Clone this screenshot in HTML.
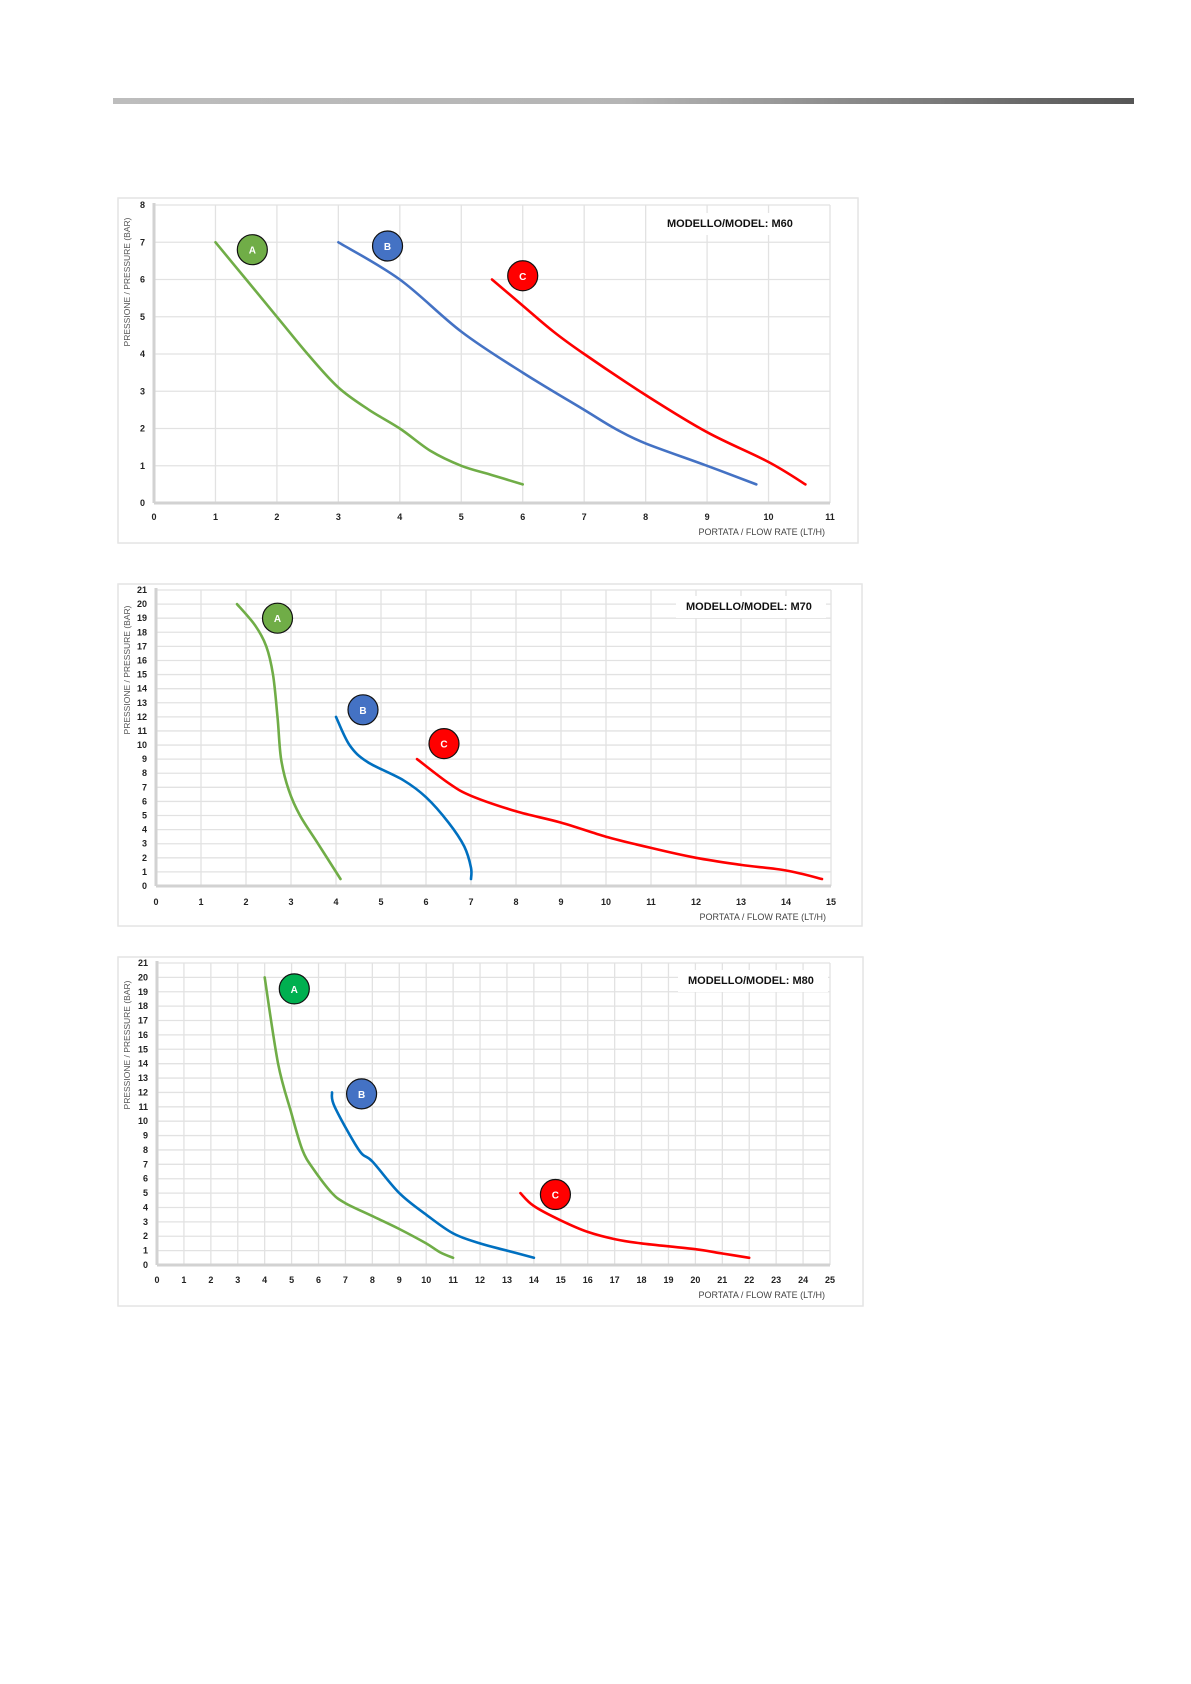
<!DOCTYPE html>
<html><head><meta charset="utf-8"><style>
html,body{margin:0;padding:0;background:#fff;}
body{width:1191px;height:1684px;position:relative;overflow:hidden;}
#bar{position:absolute;left:113px;top:98px;width:1021px;height:6px;background:linear-gradient(to right,#bdbdbd 0%,#b5b5b5 50%,#555 100%);}
svg{position:absolute;left:0;top:0;}
text{font-family:"Liberation Sans",sans-serif;}
</style></head><body>
<div id="bar"></div>
<svg id="s" width="1191" height="1684" xmlns="http://www.w3.org/2000/svg"></svg>
<script>
const NS="http://www.w3.org/2000/svg";
const s=document.getElementById('s');
function el(t,a,txt){const e=document.createElementNS(NS,t);for(const k in a)e.setAttribute(k,a[k]);if(txt!==undefined)e.textContent=txt;s.appendChild(e);return e;}
function smooth(P){let d='M'+P[0][0].toFixed(1)+','+P[0][1].toFixed(1);
 for(let i=0;i<P.length-1;i++){const p0=P[Math.max(0,i-1)],p1=P[i],p2=P[i+1],p3=P[Math.min(P.length-1,i+2)];
  const c1=[p1[0]+(p2[0]-p0[0])/6,p1[1]+(p2[1]-p0[1])/6],c2=[p2[0]-(p3[0]-p1[0])/6,p2[1]-(p3[1]-p1[1])/6];
  d+=` C${c1[0].toFixed(1)},${c1[1].toFixed(1)} ${c2[0].toFixed(1)},${c2[1].toFixed(1)} ${p2[0].toFixed(1)},${p2[1].toFixed(1)}`;}
 return d;}
function chart(c){
 const X=v=>c.x0+v*(c.x1-c.x0)/c.xm, Y=v=>c.y0-v*(c.y0-c.y1)/c.ym;
 el('rect',{x:c.fx,y:c.fy,width:c.fw,height:c.fh,fill:'#fff',stroke:'#e4e4e4','stroke-width':1.5});
 for(let i=1;i<=c.xm;i++)el('line',{x1:X(i),y1:c.y1,x2:X(i),y2:c.y0,stroke:'#e2e2e2','stroke-width':1.3});
 for(let i=1;i<=c.ym;i++)el('line',{x1:c.x0,y1:Y(i),x2:c.x1,y2:Y(i),stroke:'#e2e2e2','stroke-width':1.3});
 el('line',{x1:c.x0,y1:c.y1-2,x2:c.x0,y2:c.y0,stroke:'#d2d2d2','stroke-width':3});
 el('line',{x1:c.x0,y1:c.y0,x2:c.x1,y2:c.y0,stroke:'#d2d2d2','stroke-width':3});
 for(let i=0;i<=c.xm;i++)el('text',{x:X(i),y:c.ty,'font-size':9,'font-weight':'bold','text-anchor':'middle',fill:'#222'},i);
 for(let i=0;i<=c.ym;i++)el('text',{x:c.x0-9,y:Y(i)+3,'font-size':9,'font-weight':'bold','text-anchor':'end',fill:'#222'},i);
 el('text',{x:c.x1-5,y:c.xl,'font-size':9,'text-anchor':'end',fill:'#444'},'PORTATA / FLOW RATE (LT/H)');
 el('text',{x:0,y:0,'font-size':8.5,'text-anchor':'middle',fill:'#555',transform:`translate(${c.fx+12},${c.yl}) rotate(-90)`},'PRESSIONE / PRESSURE (BAR)');
 el('rect',{x:c.tx-10,y:c.tty-14,width:c.tw+20,height:22,fill:'#fff'});
 el('text',{x:c.tx,y:c.tty,'font-size':11,'font-weight':'bold',fill:'#111'},c.title);
 c.series.forEach(sr=>{
  el('path',{d:smooth(sr.p.map(q=>[X(q[0]),Y(q[1])])),fill:'none',stroke:sr.c,'stroke-width':2.6,'stroke-linejoin':'round','stroke-linecap':'round'});
 });
 c.series.forEach(sr=>{
  el('circle',{cx:X(sr.l[0]),cy:Y(sr.l[1]),r:15,fill:sr.lc||sr.c,stroke:'#111','stroke-width':1.2});
  el('text',{x:X(sr.l[0]),y:Y(sr.l[1])+4,'font-size':10,'font-weight':'bold','text-anchor':'middle',fill:'#fff'},sr.n);
 });
}
chart({fx:118,fy:198,fw:740,fh:345,x0:154,x1:830,xm:11,y0:503,y1:205,ym:8,ty:520,xl:535,yl:282,tx:667,tty:227,tw:128,title:'MODELLO/MODEL: M60',
 series:[
 {n:'A',c:'#70ad47',l:[1.6,6.8],p:[[1,7],[1.5,6],[2,5],[2.5,4],[3,3.1],[3.5,2.5],[4,2],[4.5,1.4],[5,1],[5.5,0.75],[6,0.5]]},
 {n:'B',c:'#4472c4',l:[3.8,6.9],p:[[3,7],[4,6],[5,4.6],[6,3.5],[7,2.5],[7.5,2],[8,1.6],[9,1],[9.8,0.5]]},
 {n:'C',c:'#ff0000',l:[6,6.1],p:[[5.5,6],[6,5.3],[6.5,4.6],[7,4],[8,2.9],[9,1.9],[10,1.1],[10.6,0.5]]}]});
chart({fx:118,fy:584,fw:744,fh:342,x0:156,x1:831,xm:15,y0:886,y1:590,ym:21,ty:905,xl:920,yl:670,tx:686,tty:610,tw:130,title:'MODELLO/MODEL: M70',
 series:[
 {n:'A',c:'#70ad47',l:[2.7,19],p:[[1.8,20],[2.2,18.5],[2.45,17],[2.6,15],[2.7,12],[2.78,9],[2.95,6.8],[3.2,5],[3.6,3],[4.1,0.5]]},
 {n:'B',c:'#0070c0',lc:'#4472c4',l:[4.6,12.5],p:[[4,12],[4.3,10],[4.7,8.8],[5.5,7.5],[6,6.3],[6.5,4.5],[6.85,2.8],[7,1.3],[7,0.5]]},
 {n:'C',c:'#ff0000',l:[6.4,10.1],p:[[5.8,9],[6.5,7.3],[7,6.4],[8,5.3],[9,4.5],[10,3.5],[11,2.7],[12,2],[13,1.5],[14,1.1],[14.8,0.5]]}]});
chart({fx:118,fy:957,fw:745,fh:349,x0:157,x1:830,xm:25,y0:1265,y1:963,ym:21,ty:1283,xl:1298,yl:1045,tx:688,tty:984,tw:130,title:'MODELLO/MODEL: M80',
 series:[
 {n:'A',c:'#70ad47',lc:'#00b050',l:[5.1,19.2],p:[[4,20],[4.5,14],[5,10.5],[5.4,8],[5.8,6.7],[6.5,5],[7,4.3],[8,3.4],[9,2.5],[10,1.5],[10.5,0.9],[11,0.5]]},
 {n:'B',c:'#0070c0',lc:'#4472c4',l:[7.6,11.9],p:[[6.5,12],[6.6,11],[7.5,8],[8,7.2],[9,5],[10,3.5],[11,2.2],[12,1.5],[13,1],[14,0.5]]},
 {n:'C',c:'#ff0000',l:[14.8,4.9],p:[[13.5,5],[14,4.1],[15,3.1],[16,2.3],[17,1.8],[18,1.5],[20,1.1],[21,0.8],[22,0.5]]}]});
</script>
</body></html>
